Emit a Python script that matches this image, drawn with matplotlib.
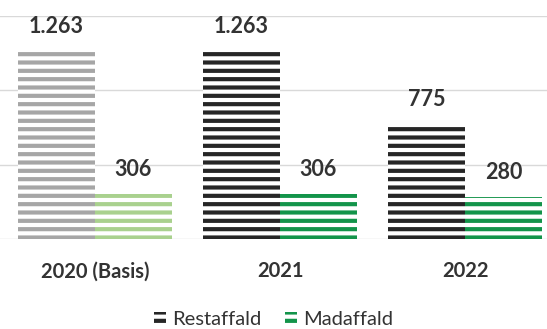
import matplotlib.pyplot as plt
import numpy as np

# waste amounts per year (tons)
years = ['2020 (Basis)', '2021', '2022']
restaffald = [1263, 1263, 775]
madaffald = [306, 306, 280]
value_labels_rest = ['1.263', '1.263', '775']
value_labels_mad = ['306', '306', '280']

rest_colors = ['#a6a6a6', '#262626', '#262626']
mad_colors = ['#a9d18e', '#13944a', '#13944a']

plt.rcParams['hatch.linewidth'] = 3.0
plt.rcParams['font.family'] = ['Lato', 'DejaVu Sans']

fig = plt.figure(figsize=(5.47, 3.29), dpi=100)
ax = fig.add_axes([0.0, 0.2736, 1.0, 0.6777])

x = np.arange(len(years))
w = 0.416

for i in range(len(years)):
    ax.bar(x[i] - w / 2, restaffald[i], w, color='white', edgecolor=rest_colors[i],
           hatch='--', linewidth=0, zorder=3)
    ax.bar(x[i] + w / 2, madaffald[i], w, color='white', edgecolor=mad_colors[i],
           hatch='--', linewidth=0, zorder=3)
    ax.annotate(value_labels_rest[i], (x[i] - w / 2, restaffald[i]), xytext=(0, 10),
                textcoords='offset points', ha='center', va='bottom',
                fontsize=15.5, fontweight='bold', color='#333333')
    ax.annotate(value_labels_mad[i], (x[i] + w / 2, madaffald[i]), xytext=(0, 10),
                textcoords='offset points', ha='center', va='bottom',
                fontsize=15.5, fontweight='bold', color='#333333')

ax.set_ylim(0, 1500)
ax.set_xlim(-0.5135, 2.443)
ax.set_yticks([0, 500, 1000, 1500])
ax.yaxis.grid(True, color='#d9d9d9', linewidth=1)
ax.set_axisbelow(True)
ax.tick_params(axis='y', left=False, labelleft=False)
ax.tick_params(axis='x', length=0, pad=16)
ax.set_xticks(x)
ax.set_xticklabels(years, fontsize=14.5, fontweight='bold', color='#333333')
for s in ax.spines.values():
    s.set_visible(False)

handles = [plt.Rectangle((0, 0), 1, 1, facecolor='white', edgecolor='#262626', hatch='--', linewidth=0),
           plt.Rectangle((0, 0), 1, 1, facecolor='white', edgecolor='#13944a', hatch='--', linewidth=0)]
fig.legend(handles, ['Restaffald', 'Madaffald'], loc='center', bbox_to_anchor=(0.5, 0.028),
           ncol=2, frameon=False, fontsize=14.5, handlelength=0.6, handleheight=0.6,
           handletextpad=0.3, columnspacing=1.2, labelcolor='#333333')

fig.savefig('out.png', dpi=100)
